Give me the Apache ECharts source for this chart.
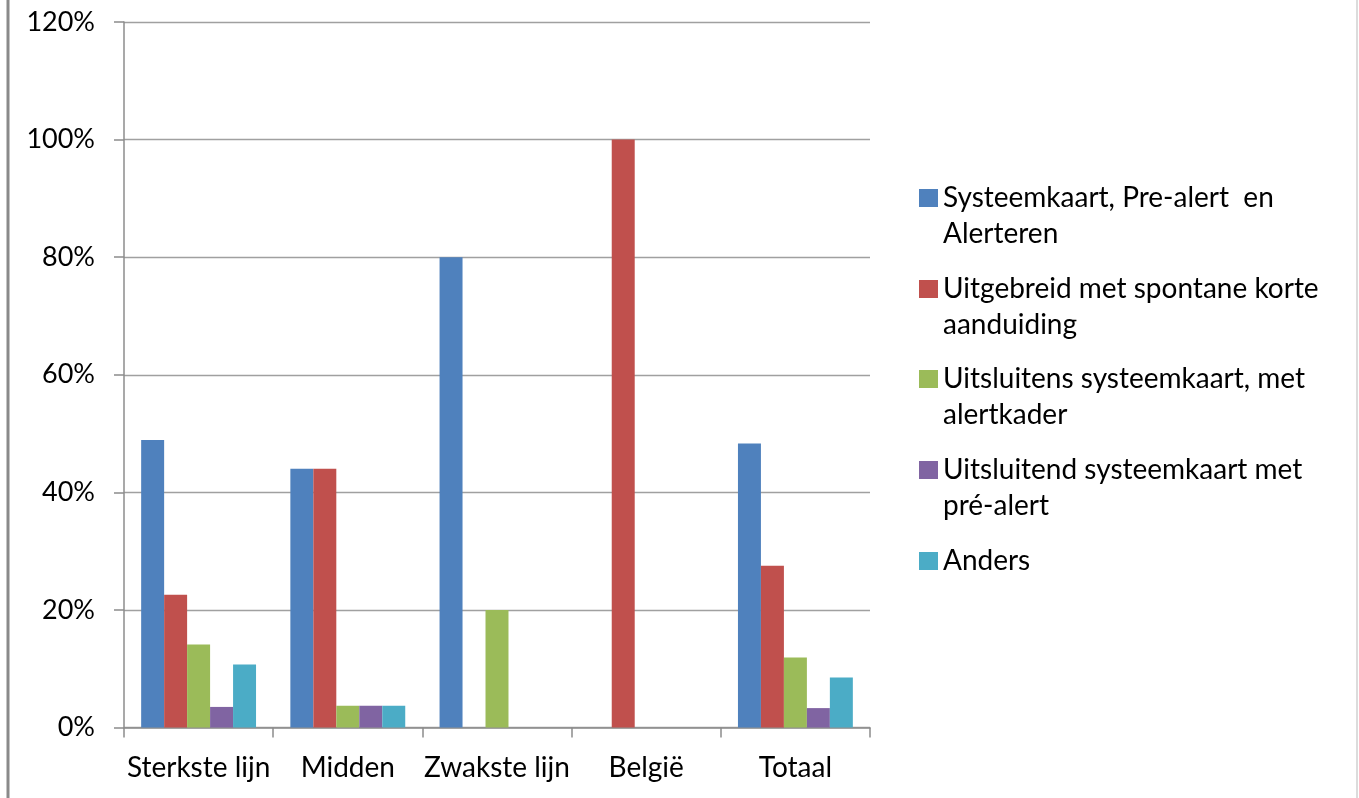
<!DOCTYPE html>
<html>
<head>
<meta charset="utf-8">
<script src="https://cdn.jsdelivr.net/npm/echarts@6/dist/echarts.min.js"></script>
<style>
html,body{margin:0;padding:0;background:#fff;}
#chart{width:1359px;height:798px;}
</style>
</head>
<body>
<div id="chart"></div>
<script>
const categories = ['Sterkste lijn', 'Midden', 'Zwakste lijn', 'België', 'Totaal'];
const seriesNames = [
  'Systeemkaart, Pre-alert en Alerteren',
  'Uitgebreid met spontane korte aanduiding',
  'Uitsluitens systeemkaart, met alertkader',
  'Uitsluitend systeemkaart met pré-alert',
  'Anders'
];
const legendLabels = [
  'Systeemkaart, Pre-alert  en\nAlerteren',
  'Uitgebreid met spontane korte\naanduiding',
  'Uitsluitens systeemkaart, met\nalertkader',
  'Uitsluitend systeemkaart met\npré-alert',
  'Anders'
];
const systeemkaartPreAlert = [48.9, 44.0, 80.0, 0, 48.3];
const uitgebreid = [22.6, 44.0, 0, 100.0, 27.5];
const uitsluitensAlertkader = [14.1, 3.7, 20.0, 0, 11.9];
const uitsluitendPreAlert = [3.5, 3.7, 0, 0, 3.3];
const anders = [10.7, 3.7, 0, 0, 8.5];
const yTicks = [0, 20, 40, 60, 80, 100, 120];

const values = [systeemkaartPreAlert, uitgebreid, uitsluitensAlertkader, uitsluitendPreAlert, anders];
const colors = ['#4F81BD', '#C0504D', '#9BBB59', '#8064A2', '#4BACC6'];
const FONT = 'Lato';
const legendCenters = [198, 289, 379, 470, 561];

const chart = echarts.init(document.getElementById('chart'));
const legends = seriesNames.map((n, i) => {
  const twoLine = legendLabels[i].indexOf('\n') >= 0;
  return {
    show: true,
    left: 919,
    top: twoLine ? legendCenters[i] - 54 : legendCenters[i] - 18,
    padding: 0,
    itemWidth: 19,
    itemHeight: 18,
    icon: 'rect',
    selectedMode: false,
    data: [n],
    // a blank first line keeps the first text line level with the colour square
    formatter: () => (twoLine ? ' \n' : '') + legendLabels[i],
    textStyle: { fontFamily: FONT, fontSize: 28, color: '#000', lineHeight: 36 }
  };
});

chart.setOption({
  animation: false,
  color: colors,
  textStyle: { fontFamily: FONT },
  grid: { left: 124, top: 22, width: 746, height: 705.5, containLabel: false },
  legend: legends,
  graphic: [
    { type: 'line', shape: { x1: 8, y1: 0, x2: 8, y2: 798 }, style: { stroke: '#8a8a8a', lineWidth: 3 } },
    { type: 'line', shape: { x1: 1357, y1: 0, x2: 1357, y2: 798 }, style: { stroke: '#d0d0d0', lineWidth: 1.5 } }
  ],
  xAxis: {
    type: 'category',
    data: categories,
    axisLine: { lineStyle: { color: '#8c8c8c', width: 1.5 } },
    axisTick: { show: true, interval: 0, length: 10, lineStyle: { color: '#8c8c8c', width: 1.5 } },
    axisLabel: { interval: 0, margin: 26, fontFamily: FONT, fontSize: 28, color: '#000' }
  },
  yAxis: {
    type: 'value',
    min: yTicks[0],
    max: yTicks[yTicks.length - 1],
    interval: 20,
    axisLine: { show: true, lineStyle: { color: '#8c8c8c', width: 1.5 } },
    axisTick: { show: true, length: 10, lineStyle: { color: '#8c8c8c', width: 1.5 } },
    axisLabel: { margin: 29, fontFamily: FONT, fontSize: 27, color: '#000', formatter: '{value}%' },
    splitLine: { show: true, lineStyle: { color: '#a0a0a0', width: 1.3 } }
  },
  series: seriesNames.map((n, i) => ({
    name: n,
    type: 'bar',
    data: values[i],
    barGap: '0%',
    barCategoryGap: '23%',
    itemStyle: { color: colors[i] }
  }))
});
</script>
</body>
</html>
